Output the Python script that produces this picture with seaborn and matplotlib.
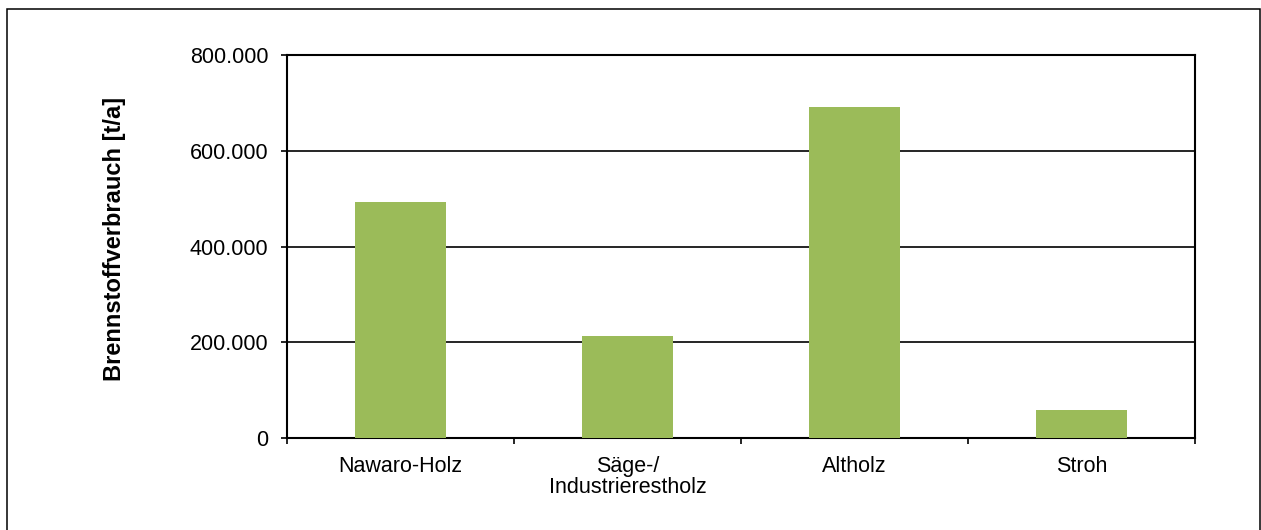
import matplotlib
matplotlib.use("Agg")
import matplotlib.pyplot as plt
import matplotlib.ticker as mticker
from matplotlib.patches import Rectangle
import seaborn as sns
import pandas as pd

categories = ["Nawaro-Holz", "Säge-/\nIndustrierestholz", "Altholz", "Stroh"]
values = [492000, 214000, 692000, 58000]
y_ticks = [0, 200000, 400000, 600000, 800000]
y_label = "Brennstoffverbrauch [t/a]"
bar_color = "#9BBB59"

sns.set_theme(style="white")
plt.rcParams['font.family'] = ['Liberation Sans', 'DejaVu Sans']
plt.rcParams['text.color'] = 'black'
plt.rcParams['axes.labelcolor'] = 'black'
plt.rcParams['xtick.color'] = 'black'
plt.rcParams['ytick.color'] = 'black'

df = pd.DataFrame({"cat": categories, "val": values})

fig = plt.figure(figsize=(12.61, 5.30), dpi=100)
ax = fig.add_axes([287/1261, 1-438/530, (1195-287)/1261, (438-55)/530])

sns.barplot(data=df, x="cat", y="val", color=bar_color, width=0.4,
            saturation=1, ax=ax, zorder=3, linewidth=0)

ax.set_xlim(-0.5, len(categories) - 0.5)
ax.set_ylim(0, 800000)
ax.set_yticks(y_ticks)
ax.yaxis.set_major_formatter(mticker.FuncFormatter(
    lambda v, p: f"{int(v):,}".replace(",", ".")))
ax.yaxis.grid(True, color="black", linewidth=1.2, zorder=0)
ax.set_axisbelow(True)

for s in ax.spines.values():
    s.set_visible(True)
    s.set_color("black")
    s.set_linewidth(1.5)

ax.tick_params(axis="y", which="major", direction="out", length=4.5, width=1.2,
               color="black", labelcolor="black", labelsize=15.5, pad=9, left=True)
ax.tick_params(axis="x", which="major", length=0, labelsize=15.5, pad=13,
               labelcolor="black")
ax.set_xticks(range(len(categories)))
ax.set_xticklabels(categories, linespacing=1.0)
ax.set_xticks([i - 0.5 for i in range(len(categories) + 1)], minor=True)
ax.tick_params(axis="x", which="minor", direction="out", length=4.5, width=1.2,
               color="black", bottom=True)

ax.set_xlabel("")
ax.set_ylabel(y_label, fontsize=17, fontweight="bold", color="black")
ax.yaxis.set_label_coords((126 - 287) / (1195 - 287), 0.52)

frame = Rectangle((7/1261, -0.02), (1260-7)/1261, 1 - 9/530 + 0.02,
                  transform=fig.transFigure, fill=False, edgecolor="black",
                  linewidth=1.1, clip_on=False)
fig.patches.append(frame)

fig.savefig("out.png", dpi=100)
